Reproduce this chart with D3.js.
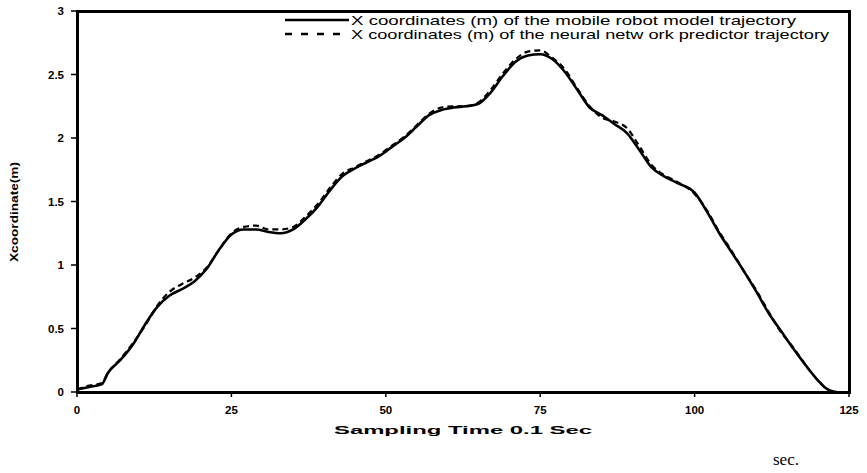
<!DOCTYPE html>
<html>
<head>
<meta charset="utf-8">
<script src="https://cdn.jsdelivr.net/npm/d3@7"></script>
</head>
<body style="margin:0">
<div id="chart" style="position:relative;width:867px;height:473px"></div>
<script>
// sampling instants (x 0.1 sec)
let timeSteps = [0, 2, 4, 5, 7, 9, 11, 13, 15, 17, 19, 21, 23, 25, 27, 29, 31, 33, 35, 37, 39, 41, 43, 45, 47, 49,
    51, 53, 55, 57, 59, 61, 63, 65, 67, 69, 71, 73, 75, 77, 79, 81, 83, 85, 87, 89, 91, 93, 95, 97, 100,
    102, 104, 106, 108, 110, 112, 114, 116, 118, 120, 121, 122, 123];

// X coordinate of the mobile robot model
let robotX = [0.02, 0.04, 0.06, 0.15, 0.25, 0.37, 0.53, 0.67, 0.76, 0.81, 0.87, 0.97, 1.12, 1.24, 1.28, 1.28, 1.26, 1.25, 1.28, 1.36, 1.46, 1.59, 1.70, 1.76, 1.81, 1.86,
    1.93, 2.00, 2.09, 2.18, 2.22, 2.24, 2.25, 2.27, 2.36, 2.49, 2.60, 2.65, 2.66, 2.62, 2.52, 2.38, 2.24, 2.18, 2.11, 2.04, 1.91, 1.77, 1.70, 1.65, 1.57,
    1.42, 1.25, 1.10, 0.95, 0.79, 0.62, 0.48, 0.34, 0.21, 0.09, 0.04, 0.01, 0.0];

// X coordinate of the neural network predictor
let predictorX = [0.02, 0.05, 0.07, 0.15, 0.26, 0.38, 0.52, 0.68, 0.79, 0.85, 0.90, 0.98, 1.12, 1.25, 1.30, 1.31, 1.28, 1.28, 1.30, 1.38, 1.48, 1.61, 1.72, 1.77, 1.82, 1.87,
    1.94, 2.01, 2.10, 2.19, 2.24, 2.25, 2.25, 2.28, 2.38, 2.51, 2.62, 2.68, 2.69, 2.63, 2.54, 2.39, 2.25, 2.16, 2.13, 2.08, 1.94, 1.79, 1.71, 1.66, 1.56,
    1.43, 1.26, 1.11, 0.95, 0.80, 0.63, 0.47, 0.35, 0.21, 0.09, 0.04, 0.01, 0.0];

let xTicks = [0, 25, 50, 75, 100, 125];
let yTicks = [0, 0.5, 1, 1.5, 2, 2.5, 3];

let legendLabels = ["X coordinates (m) of the mobile robot model trajectory",
    "X coordinates (m) of the neural netw ork predictor trajectory"];

let margin = { top: 11, left: 77 };

let svg = d3.select("#chart").append("svg")
    .style("position", "absolute").style("left", "0px").style("top", "0px")
    .attr("width", 867).attr("height", 473);
let g = svg.append("g").attr("transform", "translate(" + margin.left + "," + margin.top + ")");

// scales
let x = d3.scaleLinear().domain([0, 125]).range([0, 772]);
let y = d3.scaleLinear().domain([0, 3]).range([381, 0]);

// frame lines, tick marks and tick labels built from the scales
g.selectAll(".xtick").data(xTicks).enter().append("line")
    .attr("class", "xtick")
    .attr("x1", d => x(d)).attr("x2", d => x(d))
    .attr("y1", y(0)).attr("y2", y(0) + 5)
    .attr("stroke", "#000").attr("stroke-width", 1.5);

g.selectAll(".ytick").data(yTicks).enter().append("line")
    .attr("class", "ytick")
    .attr("x1", -6).attr("x2", 0)
    .attr("y1", d => y(d)).attr("y2", d => y(d))
    .attr("stroke", "#000").attr("stroke-width", 1.5);

g.selectAll(".xlabel").data(xTicks).enter().append("text")
    .attr("class", "xlabel")
    .attr("x", d => x(d)).attr("y", y(0) + 22)
    .attr("text-anchor", "middle")
    .attr("font-family", "Arial, 'Liberation Sans', sans-serif")
    .attr("font-weight", "bold").attr("font-size", "11.5px")
    .text(d => d);

g.selectAll(".ylabel").data(yTicks).enter().append("text")
    .attr("class", "ylabel")
    .attr("x", -13).attr("y", d => y(d) + 4)
    .attr("text-anchor", "end")
    .attr("font-family", "Arial, 'Liberation Sans', sans-serif")
    .attr("font-weight", "bold").attr("font-size", "11.5px")
    .text(d => d);

// plot frame as HTML bars positioned from the scales
let frameW = 3;
let frameBars = [
    { left: x(0) - 1.5, top: y(3) - 1.5, w: frameW, h: y(0) - y(3) + frameW },
    { left: x(0) - 1.5, top: y(0) - 1.5, w: x(125) - x(0) + frameW, h: frameW },
    { left: x(0) - 1.5, top: y(3) - 1.5, w: x(125) - x(0) + frameW, h: frameW },
    { left: x(125) - 1.5, top: y(3) - 1.5, w: frameW, h: y(0) - y(3) + frameW }
];
d3.select("#chart").selectAll(".frame").data(frameBars).enter().append("div")
    .attr("class", "frame")
    .style("position", "absolute")
    .style("background", "#000")
    .style("left", d => (margin.left + d.left) + "px")
    .style("top", d => (margin.top + d.top) + "px")
    .style("width", d => d.w + "px")
    .style("height", d => d.h + "px");

// lines
let line = d3.line()
    .x((d, i) => x(timeSteps[i]))
    .y(d => y(d))
    .curve(d3.curveMonotoneX);

g.append("path")
    .datum(predictorX)
    .attr("fill", "none")
    .attr("stroke", "#000")
    .attr("stroke-width", 2.2)
    .attr("stroke-dasharray", "6,4")
    .attr("d", line);

g.append("path")
    .datum(robotX)
    .attr("fill", "none")
    .attr("stroke", "#000")
    .attr("stroke-width", 2.6)
    .attr("d", line);

// legend
[0, 1].forEach(function (i) {
    let ly = 20 + i * 14;
    svg.append("line")
        .attr("x1", 285).attr("x2", 349)
        .attr("y1", ly).attr("y2", ly)
        .attr("stroke", "#000")
        .attr("stroke-width", 2.5)
        .attr("stroke-dasharray", i === 0 ? null : "7,9");
    svg.append("text")
        .attr("x", 351)
        .attr("y", ly + 4.5)
        .attr("textLength", i === 0 ? 445 : 478)
        .attr("lengthAdjust", "spacingAndGlyphs")
        .attr("font-family", "Arial, 'Liberation Sans', sans-serif")
        .attr("font-size", "13px")
        .text(legendLabels[i]);
});

// axis titles
svg.append("text")
    .attr("x", 463)
    .attr("y", 434)
    .attr("text-anchor", "middle")
    .attr("textLength", 258)
    .attr("lengthAdjust", "spacingAndGlyphs")
    .attr("font-family", "Arial, 'Liberation Sans', sans-serif")
    .attr("font-weight", "bold")
    .attr("font-size", "11px")
    .text("Sampling Time 0.1 Sec");

svg.append("text")
    .attr("transform", "translate(18,212) rotate(-90)")
    .attr("text-anchor", "middle")
    .attr("textLength", 100)
    .attr("lengthAdjust", "spacingAndGlyphs")
    .attr("font-family", "Arial, 'Liberation Sans', sans-serif")
    .attr("font-weight", "bold")
    .attr("font-size", "10px")
    .text("Xcoordinate(m)");

svg.append("text")
    .attr("x", 773)
    .attr("y", 465)
    .attr("font-family", "'Liberation Serif', 'DejaVu Serif', serif")
    .attr("font-size", "17px")
    .text("sec.");
</script>
</body>
</html>
